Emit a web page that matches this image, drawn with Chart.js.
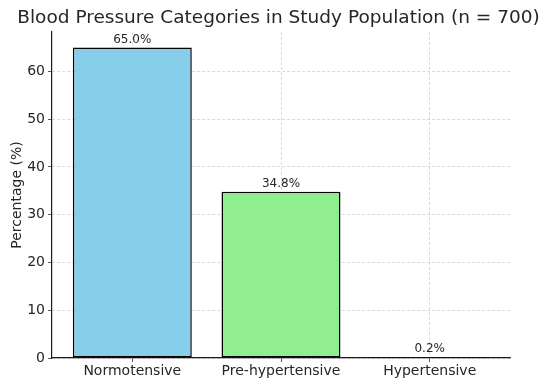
<!DOCTYPE html>
<html>
<head>
<meta charset="utf-8">
<script src="https://cdn.jsdelivr.net/npm/chart.js@4"></script>
<style>
  html, body { margin: 0; padding: 0; background: #fff; }
  #wrap { width: 557px; height: 386px; }
</style>
</head>
<body>
<div id="wrap"><canvas id="bpChart"></canvas></div>
<script>
// 資料
const categories = ['Normotensive', 'Pre-hypertensive', 'Hypertensive'];
const percentages = [65.0, 34.8, 0.2];
const barColors = ['#87CEEB', '#90EE90', '#FA8072'];
const yTicks = [0, 10, 20, 30, 40, 50, 60];

const FONT = 'DejaVu Sans, sans-serif';
const TEXT = '#262626';
const TITLE = 'Blood Pressure Categories in Study Population (n = 700)';

// 標題置中於整張畫布
const titlePlugin = {
    id: 'fullTitle',
    afterDraw(chart) {
        const ctx = chart.ctx;
        ctx.save();
        ctx.font = '18.5px ' + FONT;
        ctx.fillStyle = TEXT;
        ctx.textAlign = 'center';
        ctx.textBaseline = 'middle';
        ctx.fillText(TITLE, chart.width / 2, 18);
        ctx.restore();
    }
};

// 在柱子上方寫百分比
const valueLabels = {
    id: 'valueLabels',
    afterDatasetsDraw(chart) {
        const ctx = chart.ctx;
        const meta = chart.getDatasetMeta(0);
        ctx.save();
        ctx.font = '12px ' + FONT;
        ctx.fillStyle = TEXT;
        ctx.textAlign = 'center';
        ctx.textBaseline = 'bottom';
        meta.data.forEach((bar, i) => {
            ctx.fillText(percentages[i].toFixed(1) + '%', bar.x, bar.y - 2);
        });
        ctx.restore();
    }
};

new Chart(document.getElementById('bpChart'), {
    type: 'bar',
    data: {
        datasets: [{
            data: percentages.map((v, i) => ({ x: i, y: v })),
            backgroundColor: barColors,
            borderColor: '#000',
            borderWidth: 1.5,
            borderSkipped: false,
            barPercentage: 0.8,
            categoryPercentage: 1.0
        }]
    },
    options: {
        responsive: true,
        maintainAspectRatio: false,
        animation: false,
        layout: { padding: { left: 0, right: 47, top: 32, bottom: 0 } },
        plugins: {
            legend: { display: false },
            tooltip: { enabled: false },
            title: { display: false }
        },
        scales: {
            x: {
                type: 'linear',
                min: -0.54,
                max: 2.54,
                offset: false,
                z: 1,
                afterBuildTicks(scale) {
                    scale.ticks = categories.map((c, i) => ({ value: i }));
                },
                afterFit(scale) { scale.height = 28; },
                ticks: {
                    color: TEXT,
                    font: { family: FONT, size: 14 },
                    padding: 1,
                    maxRotation: 0,
                    autoSkip: false,
                    callback: (v) => categories[v]
                },
                grid: {
                    offset: false,
                    color: 'rgba(176,176,176,0.6)',
                    lineWidth: 0.8,
                    drawTicks: true,
                    tickLength: 4,
                    tickColor: '#333'
                },
                border: { display: true, color: '#1a1a1a', width: 1.2, dash: [3, 2] }
            },
            y: {
                min: 0,
                max: 68.25,
                z: 1,
                afterBuildTicks(scale) {
                    scale.ticks = yTicks.map(v => ({ value: v }));
                },
                afterFit(scale) { scale.width = 52; },
                title: {
                    display: true,
                    text: 'Percentage (%)',
                    color: TEXT,
                    font: { family: FONT, size: 14 },
                    padding: { top: 9, bottom: 0 }
                },
                ticks: {
                    color: TEXT,
                    font: { family: FONT, size: 14 },
                    padding: 3
                },
                grid: {
                    color: 'rgba(176,176,176,0.6)',
                    lineWidth: 0.8,
                    tickLength: 4,
                    tickColor: '#333'
                },
                border: { display: true, color: '#1a1a1a', width: 1.2, dash: [3, 2] }
            }
        }
    },
    plugins: [valueLabels, titlePlugin]
});
</script>
</body>
</html>
